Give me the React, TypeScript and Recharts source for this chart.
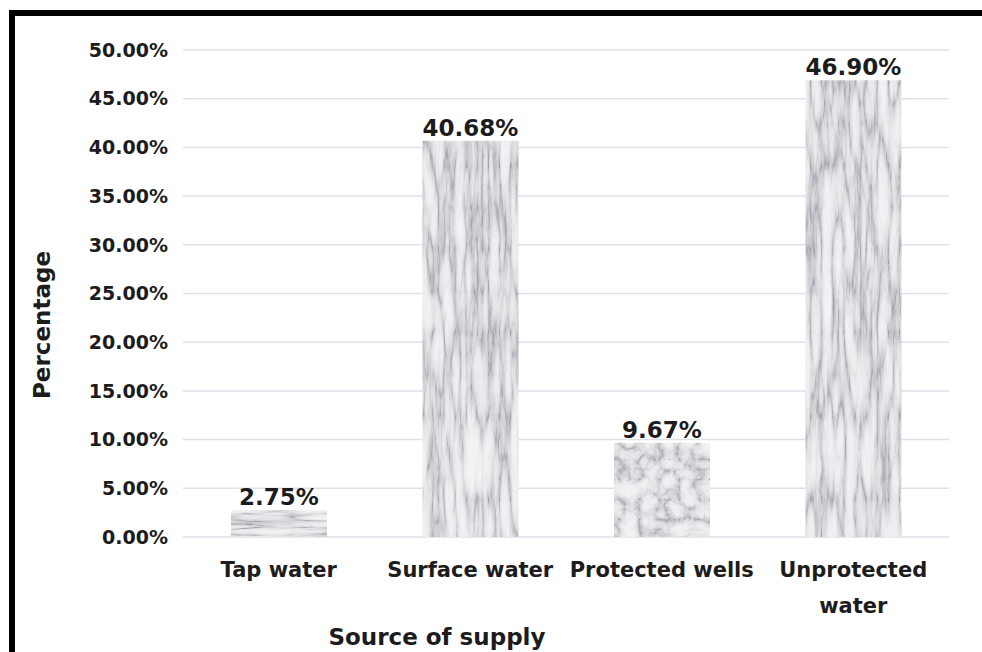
import React from 'react';
import { BarChart, Bar, XAxis, YAxis, CartesianGrid, LabelList, Cell, Label } from 'recharts';

// Water source categories and the share of households using each (percent)
const categories = ['Tap water', 'Surface water', 'Protected wells', 'Unprotected water'];
const shares = [2.75, 40.68, 9.67, 46.9];
// Marble texture used to fill each bar
const textures = ['marbleH', 'marbleV', 'marbleD', 'marbleV'];
const yTicks = [0, 5, 10, 15, 20, 25, 30, 35, 40, 45, 50];

const data = categories.map((source, i) => ({ source, share: shares[i] }));

const FONT = 'DejaVu Sans';
const INK = '#1c1c1c';
const TICK_FONT = `700 21px "${FONT}"`;

const pct = (v: number) => `${Number(v).toFixed(2)}%`;

// Break a category name into lines that fit inside one category band
let measureCtx: CanvasRenderingContext2D | null = null;
const wrapWords = (label: string, maxWidth: number): string[] => {
  if (!measureCtx) measureCtx = document.createElement('canvas').getContext('2d');
  const ctx = measureCtx!;
  ctx.font = TICK_FONT;
  const lines: string[] = [];
  let current = '';
  label.split(' ').forEach((word) => {
    const next = current ? `${current} ${word}` : word;
    if (current && ctx.measureText(next).width > maxWidth) {
      lines.push(current);
      current = word;
    } else {
      current = next;
    }
  });
  if (current) lines.push(current);
  return lines;
};

const SourceTick = (props: any) => {
  const { x, y, payload } = props;
  const lines = wrapWords(String(payload.value), 188);
  return (
    <text
      x={x}
      y={y + 40}
      textAnchor="middle"
      fill={INK}
      style={{ fontFamily: FONT, fontSize: 21, fontWeight: 700 }}
    >
      {lines.map((line, i) => (
        <tspan key={line} x={x} dy={i === 0 ? 0 : 36}>
          {line}
        </tspan>
      ))}
    </text>
  );
};

// A marble-like fill: turbulence noise whose creases become grey veins
const MarbleFilter = ({ id, freq, seed }: { id: string; freq: string; seed: number }) => (
  <filter id={id} x="0" y="0" width="1" height="1" colorInterpolationFilters="sRGB">
    <feTurbulence type="turbulence" baseFrequency={freq} numOctaves={4} seed={seed} result="noise" />
    <feColorMatrix
      in="noise"
      type="matrix"
      values="1 0 0 0 0  1 0 0 0 0  1 0 0 0 0  0 0 0 0 1"
      result="grey"
    />
    <feComponentTransfer in="grey">
      <feFuncR type="table" tableValues="0.62 0.8 0.89 0.93 0.95 0.96 0.96" />
      <feFuncG type="table" tableValues="0.62 0.8 0.89 0.93 0.95 0.96 0.96" />
      <feFuncB type="table" tableValues="0.65 0.82 0.9 0.94 0.96 0.97 0.97" />
    </feComponentTransfer>
  </filter>
);

const MarblePattern = ({ id, filter }: { id: string; filter: string }) => (
  <pattern id={id} patternUnits="userSpaceOnUse" x={0} y={0} width={982} height={652}>
    <rect x={0} y={0} width={982} height={652} filter={`url(#${filter})`} />
  </pattern>
);

export default function App() {
  return (
    <div
      style={{
        position: 'absolute',
        left: 0,
        top: 0,
        width: 982,
        height: 652,
        overflow: 'hidden',
        background: '#ffffff',
      }}
    >
      <div
        style={{
          position: 'absolute',
          left: 9,
          top: 10,
          width: 1100,
          height: 800,
          border: '6px solid #000',
          boxSizing: 'border-box',
        }}
      />
      <div style={{ position: 'absolute', left: 0, top: 0 }}>
        <BarChart
          width={982}
          height={652}
          data={data}
          margin={{ top: 50, right: 33, bottom: 0, left: 0 }}
          style={{ fontFamily: FONT }}
        >
          <defs>
            <MarbleFilter id="veinV" freq="0.09 0.012" seed={4} />
            <MarbleFilter id="veinH" freq="0.012 0.14" seed={11} />
            <MarbleFilter id="veinD" freq="0.05 0.05" seed={2} />
            <MarblePattern id="marbleV" filter="veinV" />
            <MarblePattern id="marbleH" filter="veinH" />
            <MarblePattern id="marbleD" filter="veinD" />
          </defs>
          <CartesianGrid vertical={false} stroke="#dde1e9" strokeWidth={1.5} />
          <XAxis
            dataKey="source"
            height={115}
            axisLine={false}
            tickLine={false}
            tickSize={0}
            tickMargin={0}
            interval={0}
            tick={<SourceTick />}
          >
            <Label
              content={() => (
                <text
                  x={437}
                  y={645}
                  textAnchor="middle"
                  fill={INK}
                  style={{ fontFamily: FONT, fontSize: 23, fontWeight: 700 }}
                >
                  Source of supply
                </text>
              )}
            />
          </XAxis>
          <YAxis
            width={183}
            domain={[0, 50]}
            ticks={yTicks}
            tickFormatter={pct}
            axisLine={false}
            tickLine={false}
            tickSize={0}
            tickMargin={15}
            tick={{ fill: INK, fontSize: 19, fontWeight: 700, fontFamily: FONT }}
          >
            <Label
              content={() => (
                <text
                  x={42}
                  y={325}
                  transform="rotate(-90 42 325)"
                  textAnchor="middle"
                  dominantBaseline="central"
                  fill={INK}
                  style={{ fontFamily: FONT, fontSize: 23, fontWeight: 700 }}
                >
                  Percentage
                </text>
              )}
            />
          </YAxis>
          <Bar dataKey="share" barSize={96} isAnimationActive={false}>
            {data.map((d, i) => (
              <Cell key={d.source} fill={`url(#${textures[i]})`} />
            ))}
            <LabelList
              dataKey="share"
              position="top"
              offset={5}
              formatter={pct}
              fill={INK}
              style={{ fontFamily: FONT, fontSize: 23, fontWeight: 700 }}
            />
          </Bar>
        </BarChart>
      </div>
    </div>
  );
}
